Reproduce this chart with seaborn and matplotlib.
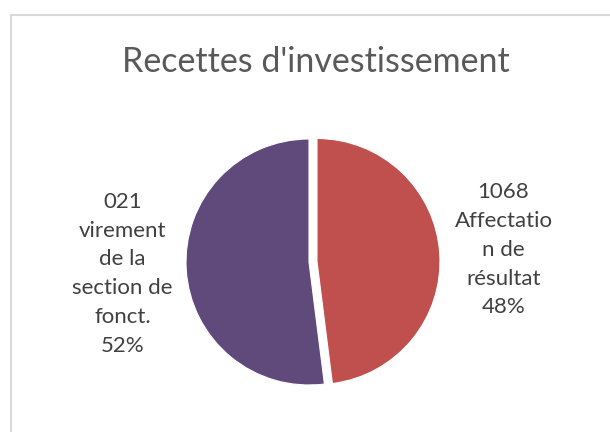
import matplotlib
matplotlib.use("Agg")
import matplotlib.pyplot as plt
import seaborn as sns
from matplotlib.patches import Rectangle

# data
categories = ["1068\nAffectatio\nn de\nrésultat", "021\nvirement\nde la\nsection de\nfonct."]
shares = [48, 52]
colours = ["#C0504D", "#604A7B"]
title = "Recettes d'investissement"

sns.set_theme(style="white")
plt.rcParams["font.family"] = ["Lato", "DejaVu Sans"]

fig = plt.figure(figsize=(6.1, 4.32), dpi=100)

# chart frame (only left/top visible, cropped like the original)
fig.patches.append(Rectangle((11 / 610, -0.1), 1.0, (432 - 15) / 432 + 0.1,
                             transform=fig.transFigure, fill=False,
                             edgecolor="#D9D9D9", linewidth=1.5))

# pie axes: radius ~123 px, centre at (309, 262) px
r_px = 123
lim = 1.2
side = 2 * lim * r_px
cx, cy = 309, 432 - 262
ax = fig.add_axes([(cx - side / 2) / 610, (cy - side / 2) / 432, side / 610, side / 432])

labels = [f"{c}\n{s}%" for c, s in zip(categories, shares)]
wedges, texts = ax.pie(
    shares,
    labels=labels,
    colors=colours,
    startangle=90,
    counterclock=False,
    explode=[0.065, 0],
    labeldistance=1.52,
    wedgeprops={"edgecolor": "white", "linewidth": 0.8},
    textprops={"fontsize": 16, "color": "#404040", "linespacing": 1.55},
)
for t in texts:
    t.set_ha("center")
    t.set_va("center")
ax.set_xlim(-lim, lim)
ax.set_ylim(-lim, lim)
ax.set_aspect("equal")
ax.axis("off")

fig.text(316 / 610, 1 - 62 / 432, title, ha="center", va="center",
         fontsize=24.5, color="#595959")

fig.savefig("out.png", dpi=100)
